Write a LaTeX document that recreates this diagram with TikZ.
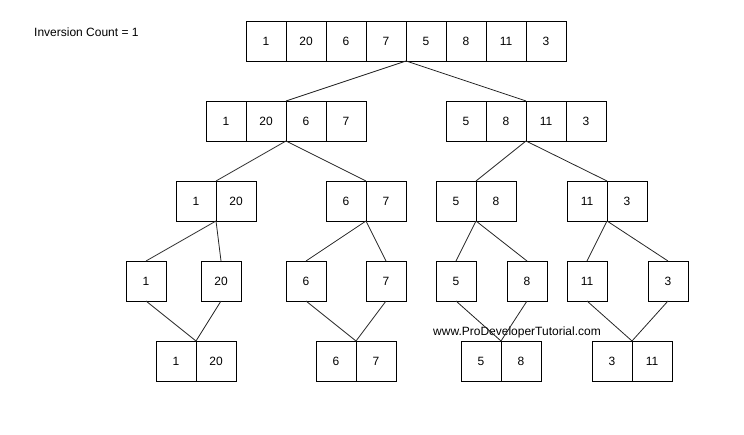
\documentclass[tikz,border=0pt]{standalone}
\usepackage{fontspec}
\setmainfont{Liberation Sans}
\usetikzlibrary{positioning}

\begin{document}
\begin{tikzpicture}[
            x=1pt, y=-1pt,
            node distance=0pt,
            cell/.style={rectangle, draw, line width=0.9pt, minimum size=40pt, inner sep=0pt, outer sep=0pt, font=\fontsize{12}{14}\selectfont},
            label/.style={anchor=west, inner sep=0pt, font=\fontsize{12}{14}\selectfont},
            link/.style={line width=0.8pt, draw=black!85}
        ]
        \useasboundingbox (0,0) rectangle (744,435);

        \node[label] (count) at (34,32) {Inversion Count = 1};

        % full array
        \node[cell] (t1) at (266,41) {1};
        \node[cell, right=of t1] (t2) {20};
        \node[cell, right=of t2] (t3) {6};
        \node[cell, right=of t3] (t4) {7};
        \node[cell, right=of t4] (t5) {5};
        \node[cell, right=of t5] (t6) {8};
        \node[cell, right=of t6] (t7) {11};
        \node[cell, right=of t7] (t8) {3};

        % halves
        \node[cell] (a1) at (226,121) {1};
        \node[cell, right=of a1] (a2) {20};
        \node[cell, right=of a2] (a3) {6};
        \node[cell, right=of a3] (a4) {7};
        \node[cell] (b1) at (466,121) {5};
        \node[cell, right=of b1] (b2) {8};
        \node[cell, right=of b2] (b3) {11};
        \node[cell, right=of b3] (b4) {3};

        % quarters
        \node[cell] (c1) at (196,201) {1};
        \node[cell, right=of c1] (c2) {20};
        \node[cell] (d1) at (346,201) {6};
        \node[cell, right=of d1] (d2) {7};
        \node[cell] (e1) at (456,201) {5};
        \node[cell, right=of e1] (e2) {8};
        \node[cell] (f1) at (587,201) {11};
        \node[cell, right=of f1] (f2) {3};

        % single elements
        \node[cell] (g1) at (146,281) {1};
        \node[cell] (g2) at (221,281) {20};
        \node[cell] (h1) at (306,281) {6};
        \node[cell] (h2) at (386,281) {7};
        \node[cell] (i1) at (456,281) {5};
        \node[cell] (i2) at (527,281) {8};
        \node[cell] (j1) at (587,281) {11};
        \node[cell] (j2) at (668,281) {3};

        % merged pairs
        \node[cell] (k1) at (176,361) {1};
        \node[cell, right=of k1] (k2) {20};
        \node[cell] (l1) at (336,361) {6};
        \node[cell, right=of l1] (l2) {7};
        \node[cell] (m1) at (481,361) {5};
        \node[cell, right=of m1] (m2) {8};
        \node[cell] (n1) at (612,361) {3};
        \node[cell, right=of n1] (n2) {11};

        \node[label] (site) at (433,332) {www.ProDeveloperTutorial.com};

        \draw[link] (t4.south east) -- (a2.north east);
        \draw[link] (t4.south east) -- (b2.north east);
        \draw[link] (a2.south east) -- (c1.north east);
        \draw[link] (a2.south east) -- (d1.north east);
        \draw[link] (b2.south east) -- (e1.north east);
        \draw[link] (b2.south east) -- (f1.north east);
        \draw[link] (c1.south east) -- (g1.north);
        \draw[link] (c1.south east) -- (g2.north);
        \draw[link] (d1.south east) -- (h1.north);
        \draw[link] (d1.south east) -- (h2.north);
        \draw[link] (e1.south east) -- (i1.north);
        \draw[link] (e1.south east) -- (i2.north);
        \draw[link] (f1.south east) -- (j1.north);
        \draw[link] (f1.south east) -- (j2.north);
        \draw[link] (g1.south) -- (k1.north east);
        \draw[link] (g2.south) -- (k1.north east);
        \draw[link] (h1.south) -- (l1.north east);
        \draw[link] (h2.south) -- (l1.north east);
        \draw[link] (i1.south) -- (m1.north east);
        \draw[link] (i2.south) -- (m1.north east);
        \draw[link] (j1.south) -- (n1.north east);
        \draw[link] (j2.south) -- (n1.north east);
    \end{tikzpicture}
\end{document}
